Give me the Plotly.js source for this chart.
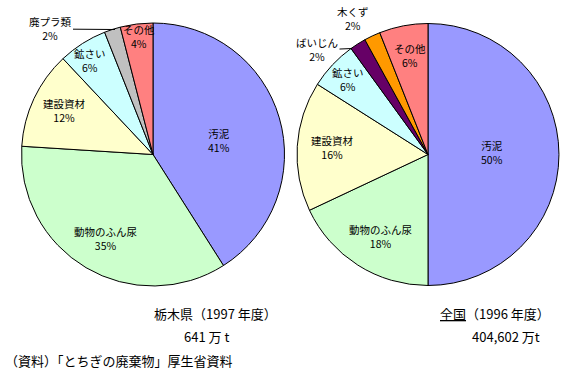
<!DOCTYPE html>
<html>
<head>
<meta charset="utf-8">
<script src="https://cdn.plot.ly/plotly-3.0.1.min.js"></script>
<style>html,body{margin:0;padding:0;background:#fff;}#chart{width:567px;height:374px;}</style>
</head>
<body>
<div id="chart"></div>
<script>
// ---- data ----
var leftCategories = ["汚泥", "動物のふん尿", "建設資材", "鉱さい", "廃プラ類", "その他"];
var leftValues = [41, 35, 12, 6, 2, 4];
var rightCategories = ["汚泥", "動物のふん尿", "建設資材", "鉱さい", "ばいじん", "木くず", "その他"];
var rightValues = [50, 18, 16, 6, 2, 2, 6];
var leftTitle = "栃木県（1997 年度）";
var leftTotal = "641 万 t";
var rightTitle = "<u>全国</u>（1996 年度）";
var rightTotal = "404,602 万t";
var sourceNote = "（資料）「とちぎの廃棄物」厚生省資料";

// ---- styles / placement ----
var colorMap = {
  "汚泥": "#9999FF", "動物のふん尿": "#CCFFCC", "建設資材": "#FFFFCC",
  "鉱さい": "#CCFFFF", "廃プラ類": "#C0C0C0", "その他": "#FF8080",
  "ばいじん": "#660066", "木くず": "#FF9900"
};
var W = 567, H = 374;
var FONT = "'Noto Sans CJK JP', 'Noto Sans', sans-serif";
// label block centers in pixels; leader = arrow tip in pixels (or null)
var leftLabelPos = [[219,140.5],[106,238],[64,110],[90,61],[50,29],[139,37]];
var leftLeader = [null,null,null,null,[115,29.5],null];
var rightLabelPos = [[492,152],[381,236],[332,147],[348,80],[317,50],[353,19],[410,55]];
var rightLeader = [null,null,null,null,[352,48.5],null,null];

function px(x){return x/W;}
function py(y){return 1-y/H;}

function pieTrace(cats, vals, x0, x1, y0, y1){
  return {
    type: "pie", labels: cats, values: vals, sort: false, direction: "clockwise",
    rotation: 0, textinfo: "none", hoverinfo: "none", showlegend: false,
    marker: {colors: cats.map(function(c){return colorMap[c];}), line: {color: "#000", width: 1}},
    domain: {x: [px(x0), px(x1)], y: [py(y1), py(y0)]}
  };
}

var data = [
  pieTrace(leftCategories, leftValues, 21.5, 284.5, 23, 286),
  pieTrace(rightCategories, rightValues, 297, 559, 23, 286)
];

var annotations = [];
function addLabels(cats, vals, pos, leaders){
  cats.forEach(function(c, i){
    var a = {
      xref: "paper", yref: "paper", text: c + "<br>" + vals[i] + "%",
      font: {family: FONT, size: 10.5, color: "#000"}, xanchor: "center", yanchor: "middle"
    };
    if (leaders[i]) {
      a.x = px(leaders[i][0]); a.y = py(leaders[i][1]);
      a.showarrow = true; a.arrowhead = 0; a.arrowwidth = 1; a.arrowcolor = "#000";
      a.ax = pos[i][0] - leaders[i][0]; a.ay = pos[i][1] - leaders[i][1]; a.standoff = 0;
    } else {
      a.x = px(pos[i][0]); a.y = py(pos[i][1]); a.showarrow = false;
    }
    annotations.push(a);
  });
}
addLabels(leftCategories, leftValues, leftLabelPos, leftLeader);
addLabels(rightCategories, rightValues, rightLabelPos, rightLeader);

function txt(t, x, y, anchor){
  annotations.push({xref:"paper", yref:"paper", x:px(x), y:py(y), text:t, showarrow:false,
    xanchor:anchor||"center", yanchor:"middle", font:{family:FONT, size:13, color:"#000"}});
}
txt(leftTitle, 215.5, 313);
txt(leftTotal, 206.5, 336.5);
txt(rightTitle, 495, 313);
txt(rightTotal, 506, 336);
txt(sourceNote, 3, 360.5, "left");

var layout = {
  width: W, height: H, margin: {l:0, r:0, t:0, b:0},
  paper_bgcolor: "#fff", plot_bgcolor: "#fff",
  annotations: annotations, hovermode: false
};
Plotly.newPlot("chart", data, layout, {displayModeBar: false, staticPlot: true});
</script>
</body>
</html>
